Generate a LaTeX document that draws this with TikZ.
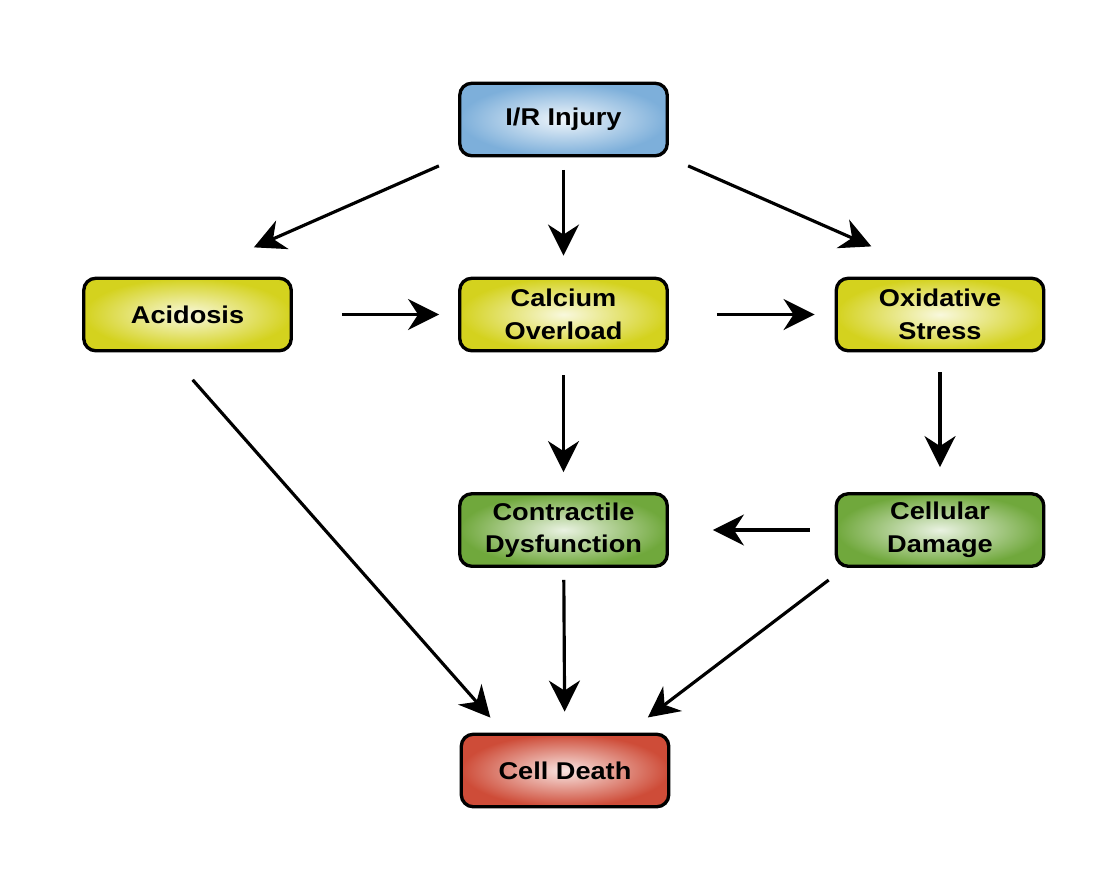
\documentclass[tikz,border=0pt]{standalone}
\usepackage{fontspec}
\setmainfont{Liberation Sans}[FakeStretch=1.12]
\usetikzlibrary{arrows.meta,positioning}

\definecolor{injblue}{RGB}{125,175,218}
\definecolor{midyellow}{RGB}{212,210,30}
\definecolor{effgreen}{RGB}{112,168,60}
\definecolor{deathred}{RGB}{206,76,56}

\begin{document}
\begin{tikzpicture}[>={Stealth[length=0.62cm,width=0.62cm,inset=0.2cm]},
    box/.style={draw=black, line width=1.9pt, rounded corners=0.24cm,
      minimum width=4.15cm, minimum height=1.45cm, align=center,
      font=\fontsize{13.8}{18.5}\selectfont\bfseries},
    ir/.style={box, inner color=white!88!injblue, outer color=injblue},
    mid/.style={box, inner color=white!85!midyellow, outer color=midyellow},
    eff/.style={box, inner color=white!85!effgreen, outer color=effgreen},
    fin/.style={box, inner color=white!85!deathred, outer color=deathred},
    link/.style={line width=1.8pt}]
    \useasboundingbox (0,0) rectangle (22.34,-17.6);

    \node[ir]  (inj)   at (11.27,-2.39)  {I/R Injury};
    \node[mid] (acid)  at (3.75,-6.29)   {Acidosis};
    \node[mid] (calc)  at (11.27,-6.29)  {Calcium\\Overload};
    \node[mid] (oxid)  at (18.8,-6.29)   {Oxidative\\Stress};
    \node[eff] (contr) at (11.27,-10.6)  {Contractile\\Dysfunction};
    \node[eff] (dmg)   at (18.8,-10.6)   {Cellular\\Damage};
    \node[fin] (death) at (11.3,-15.41)  {Cell Death};

    \path[->, link]
    (inj.south west) edge [shorten <=0.42cm, shorten >=1.45cm] (acid.north)
    (inj)   edge [shorten <=0.25cm, shorten >=0.42cm] (calc)
    (inj.south east) edge [shorten <=0.42cm, shorten >=1.5cm] (oxid.north)
    (acid)  edge [shorten <=0.98cm, shorten >=0.38cm] (calc)
    (calc)  edge [shorten <=0.96cm, shorten >=0.4cm]  (oxid)
    (calc)  edge [shorten <=0.46cm, shorten >=0.4cm]  (contr)
    (oxid)  edge [shorten <=0.4cm,  shorten >=0.5cm]  (dmg)
    (dmg)   edge [shorten <=0.5cm,  shorten >=0.88cm] (contr)
    (contr) edge [shorten <=0.24cm, shorten >=0.42cm] (death)
    ([xshift=-0.38cm]acid.south) edge [shorten <=0.73cm, shorten >=0.4cm] ([xshift=0.88cm]death.north west)
    ([xshift=0.2cm]dmg.south west) edge [shorten <=0.4cm, shorten >=0.5cm] ([xshift=-0.85cm]death.north east)
    ;
\end{tikzpicture}
\end{document}
